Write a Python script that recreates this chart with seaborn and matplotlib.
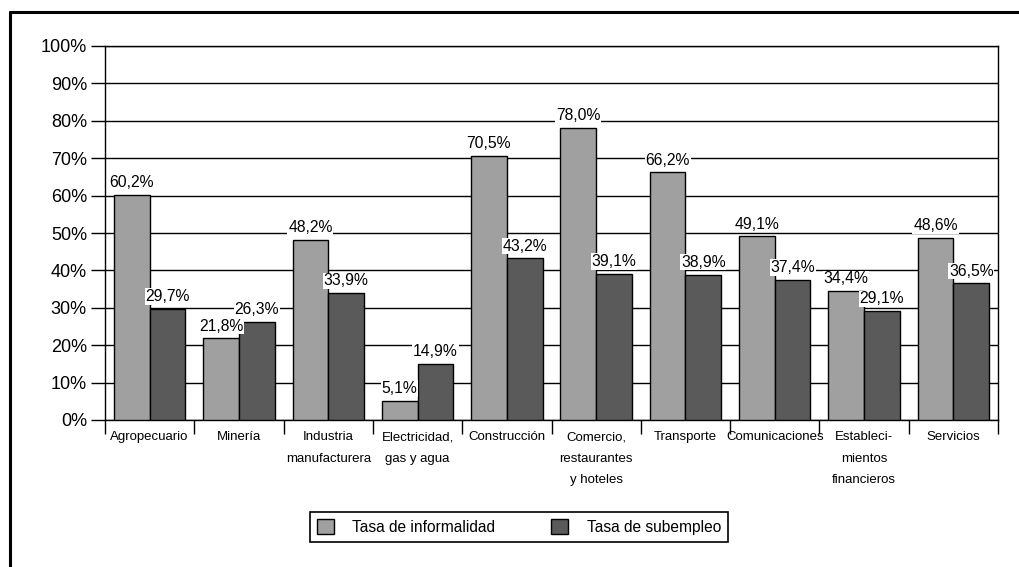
import pandas as pd
import numpy as np
import matplotlib
matplotlib.use('Agg')
import matplotlib.pyplot as plt
from matplotlib.lines import Line2D
from matplotlib.ticker import FixedLocator
import seaborn as sns

# Data
sectores = ['Agropecuario', 'Minería', 'Industria\nmanufacturera',
            'Electricidad,\ngas y agua', 'Construcción',
            'Comercio,\nrestaurantes\ny hoteles', 'Transporte',
            'Comunicaciones', 'Estableci-\nmientos\nfinancieros', 'Servicios']
informalidad = [60.2, 21.8, 48.2, 5.1, 70.5, 78.0, 66.2, 49.1, 34.4, 48.6]
subempleo = [29.7, 26.3, 33.9, 14.9, 43.2, 39.1, 38.9, 37.4, 29.1, 36.5]
series = ['Tasa de informalidad', 'Tasa de subempleo']
colores = {'Tasa de informalidad': '#a0a0a0', 'Tasa de subempleo': '#5a5a5a'}

df = pd.DataFrame({
    'sector': sectores * 2,
    'valor': informalidad + subempleo,
    'serie': [series[0]] * len(sectores) + [series[1]] * len(sectores),
})

sns.set_style('white')
plt.rcParams['font.family'] = ['Liberation Sans', 'DejaVu Sans']
plt.rcParams['text.color'] = 'black'
plt.rcParams['xtick.color'] = 'black'
plt.rcParams['ytick.color'] = 'black'

fig = plt.figure(figsize=(10.2, 5.67), dpi=100)
ax = fig.add_axes([105 / 1020, 1 - 420 / 567, (998 - 105) / 1020, (420 - 46) / 567])

sns.barplot(data=df, x='sector', y='valor', hue='serie', palette=colores,
            edgecolor='black', linewidth=1, width=0.8, ax=ax, zorder=3)

ax.set_ylim(0, 100)
ax.set_xlim(-0.5, len(sectores) - 0.5)
ax.set_yticks(np.arange(0, 101, 10))
ax.set_yticklabels([f'{v}%' for v in range(0, 101, 10)], fontsize=13)
ax.yaxis.grid(True, color='black', linewidth=1, zorder=0)
ax.set_axisbelow(True)
ax.tick_params(axis='y', length=10, width=1, color='black', left=True, pad=3)

# category labels at centres, tick marks at group boundaries
ax.tick_params(axis='x', which='major', length=0, pad=8, labelsize=9.5)
for lbl in ax.get_xticklabels():
    lbl.set_linespacing(2.05)
ax.xaxis.set_minor_locator(FixedLocator(np.arange(-0.5, len(sectores), 1)))
ax.tick_params(axis='x', which='minor', length=10, width=1, color='black', bottom=True)
ax.set_xlabel('')
ax.set_ylabel('')

for s in ax.spines.values():
    s.set_color('black')
    s.set_linewidth(1)

# value labels
for cont, vals in zip(ax.containers, [informalidad, subempleo]):
    ax.bar_label(cont, labels=[f'{v:.1f}%'.replace('.', ',') for v in vals],
                 padding=3.5, fontsize=11.3,
                 bbox=dict(facecolor='white', edgecolor='none', pad=0.6))

leg = ax.legend(loc='center', bbox_to_anchor=(519 / 1020, 1 - 527 / 567),
                bbox_transform=fig.transFigure, ncol=2, fontsize=11.2,
                frameon=True, fancybox=False, framealpha=1, edgecolor='black',
                handlelength=1.1, handleheight=1.1, columnspacing=3.6,
                handletextpad=1.2, borderpad=0.45, borderaxespad=0)
leg.get_frame().set_linewidth(1.2)
leg.set_title(None)

# outer frame (top and left edges visible)
fig.add_artist(Line2D([10 / 1020, 10 / 1020], [0, 1 - 12 / 567], color='black', lw=2.2))
fig.add_artist(Line2D([10 / 1020, 1], [1 - 12 / 567, 1 - 12 / 567], color='black', lw=2.2))

fig.savefig('out.png', dpi=100)
